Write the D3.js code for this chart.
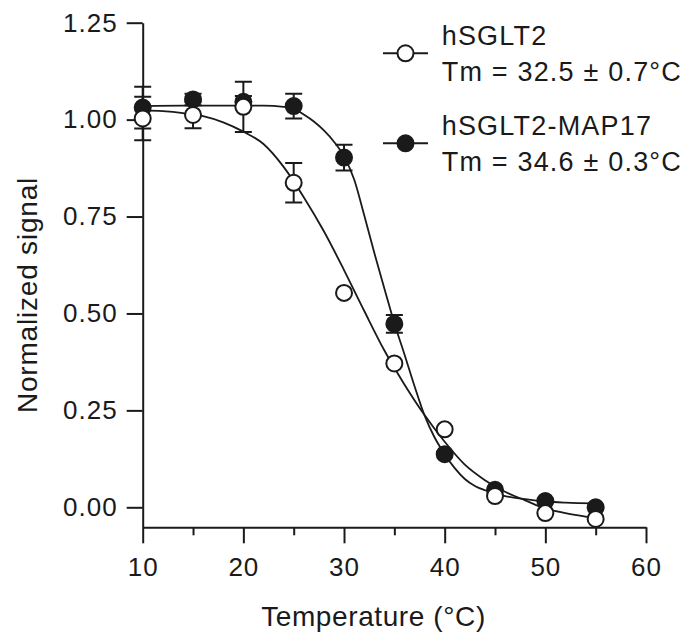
<!DOCTYPE html>
<html lang="en">
<head>
    <meta charset="UTF-8">
    <title>Thermal stability</title>
    <script src="https://cdn.jsdelivr.net/npm/d3@7"></script>
    <style>
        body {
            margin: 0;
            background-color: white;
        }
        svg text {
            font-family: "Liberation Sans", Arial, sans-serif;
            fill: #1a1a1a;
        }
        .axis path, .axis line {
            stroke: #1a1a1a;
            stroke-width: 2;
        }
        .axis text {
            font-size: 26px;
            letter-spacing: 1px;
        }
    </style>
</head>
<body>
    <svg id="chart" width="692" height="641"></svg>

    <script>
        // measured points
        let temps = [10, 15, 20, 25, 30, 35, 40, 45, 50, 55];
        let wtMean = [1.003, 1.012, 1.033, 0.837, 0.553, 0.371, 0.201, 0.029, -0.015, -0.030];
        let wtErr = [0.056, 0.034, 0.065, 0.051, 0, 0, 0, 0, 0, 0];
        let cxMean = [1.031, 1.052, 1.046, 1.035, 0.902, 0.473, 0.137, 0.045, 0.016, 0.000];
        let cxErr = [0.054, 0.015, 0.015, 0.032, 0.033, 0.023, 0, 0, 0, 0];

        // fitted curves
        let wtFitT = [10, 12, 14, 16, 18, 20, 22, 24, 26, 28, 30, 32, 34, 36, 38, 40, 42, 44, 46, 48, 50, 52, 54, 55];
        let wtFit = [1.024, 1.022, 1.017, 1.009, 0.993, 0.969, 0.937, 0.878, 0.800, 0.712, 0.612, 0.507, 0.405, 0.317, 0.238, 0.169, 0.110, 0.070, 0.040, 0.018, -0.003, -0.015, -0.024, -0.028];
        let cxFitT = [10, 14, 18, 22, 24, 25, 26, 27, 28, 29, 30, 31, 32, 33, 34, 35, 36, 37, 38, 39, 40, 41, 42, 43, 44, 45, 46, 48, 50, 52, 55];
        let cxFit = [1.035, 1.036, 1.036, 1.036, 1.033, 1.028, 1.013, 0.995, 0.972, 0.943, 0.905, 0.846, 0.754, 0.657, 0.565, 0.475, 0.395, 0.313, 0.237, 0.180, 0.137, 0.101, 0.073, 0.055, 0.044, 0.036, 0.029, 0.021, 0.015, 0.012, 0.010];

        let seriesNames = ["hSGLT2", "hSGLT2-MAP17"];
        let tmLabels = ["Tm = 32.5 ± 0.7°C", "Tm = 34.6 ± 0.3°C"];
        let yTicks = [0, 0.25, 0.5, 0.75, 1.0, 1.25];
        let xTicks = [10, 20, 30, 40, 50, 60];
        let xMinor = [15, 25, 35, 45, 55];

        let svg = d3.select("#chart");

        let x = d3.scaleLinear().domain([10, 60]).range([142.7, 646]);
        let y = d3.scaleLinear().domain([-0.0516, 1.25]).range([527.3, 22.7]);

        // axes
        svg.append("g")
            .attr("class", "axis")
            .attr("transform", "translate(142.7,0)")
            .call(d3.axisLeft(y).tickValues(yTicks).tickSize(16).tickSizeOuter(0)
                .tickPadding(9).tickFormat(d3.format(".2f")));

        svg.append("g")
            .attr("class", "axis")
            .attr("transform", "translate(0,527.3)")
            .call(d3.axisBottom(x).tickValues(xMinor).tickSize(8).tickSizeOuter(0).tickFormat(""))
            .select(".domain").remove();

        svg.append("g")
            .attr("class", "axis")
            .attr("transform", "translate(0,527.3)")
            .call(d3.axisBottom(x).tickValues(xTicks).tickSize(16).tickSizeOuter(0).tickPadding(14.5));

        svg.append("text")
            .attr("x", 373.5)
            .attr("y", 626)
            .attr("text-anchor", "middle")
            .style("font-size", "28px")
            .style("letter-spacing", "0.6px")
            .text("Temperature (°C)");

        svg.append("text")
            .attr("transform", "translate(37,295) rotate(-90)")
            .attr("text-anchor", "middle")
            .style("font-size", "28px")
            .style("letter-spacing", "0.8px")
            .text("Normalized signal");

        // curves
        let line = d3.line()
            .x(d => x(d[0]))
            .y(d => y(d[1]))
            .curve(d3.curveMonotoneX);

        let curves = [d3.zip(cxFitT, cxFit), d3.zip(wtFitT, wtFit)];
        svg.selectAll(".fit")
            .data(curves)
            .enter()
            .append("path")
            .attr("class", "fit")
            .attr("d", line)
            .attr("fill", "none")
            .attr("stroke", "#1a1a1a")
            .attr("stroke-width", 1.8);

        // filled series first, open drawn on top
        let series = [
            {mean: cxMean, err: cxErr, fill: "#1a1a1a"},
            {mean: wtMean, err: wtErr, fill: "white"}
        ];

        series.forEach(function (s) {
            let pts = temps.map((t, i) => ({t: t, v: s.mean[i], e: s.err[i]}));
            let bars = pts.filter(d => d.e > 0);
            let g = svg.append("g");

            g.selectAll(".eb")
                .data(bars)
                .enter()
                .append("path")
                .attr("d", d => {
                    let cx = x(d.t), y1 = y(d.v + d.e), y2 = y(d.v - d.e);
                    return "M" + cx + "," + y1 + "V" + y2 +
                        "M" + (cx - 8.5) + "," + y1 + "H" + (cx + 8.5) +
                        "M" + (cx - 8.5) + "," + y2 + "H" + (cx + 8.5);
                })
                .attr("fill", "none")
                .attr("stroke", "#1a1a1a")
                .attr("stroke-width", 2);

            g.selectAll("circle")
                .data(pts)
                .enter()
                .append("circle")
                .attr("cx", d => x(d.t))
                .attr("cy", d => y(d.v))
                .attr("r", 8)
                .attr("fill", s.fill)
                .attr("stroke", "#1a1a1a")
                .attr("stroke-width", 2);
        });

        // legend
        let legendFill = ["white", "#1a1a1a"];
        let legendY = [53.3, 143.3];
        let legend = svg.selectAll(".legend")
            .data(seriesNames)
            .enter()
            .append("g")
            .attr("class", "legend")
            .attr("transform", (d, i) => "translate(0," + legendY[i] + ")");

        legend.append("line")
            .attr("x1", 383).attr("x2", 428)
            .attr("stroke", "#1a1a1a")
            .attr("stroke-width", 2);

        legend.append("circle")
            .attr("cx", 405.5)
            .attr("r", 8)
            .attr("fill", (d, i) => legendFill[i])
            .attr("stroke", "#1a1a1a")
            .attr("stroke-width", 2);

        legend.append("text")
            .attr("x", 441.7)
            .attr("y", -8.3)
            .style("font-size", "27px")
            .style("letter-spacing", "1.2px")
            .text(d => d);

        legend.append("text")
            .attr("x", 441.7)
            .attr("y", 28.2)
            .style("font-size", "27px")
            .style("letter-spacing", "1.2px")
            .text((d, i) => tmLabels[i]);
    </script>
</body>
</html>
